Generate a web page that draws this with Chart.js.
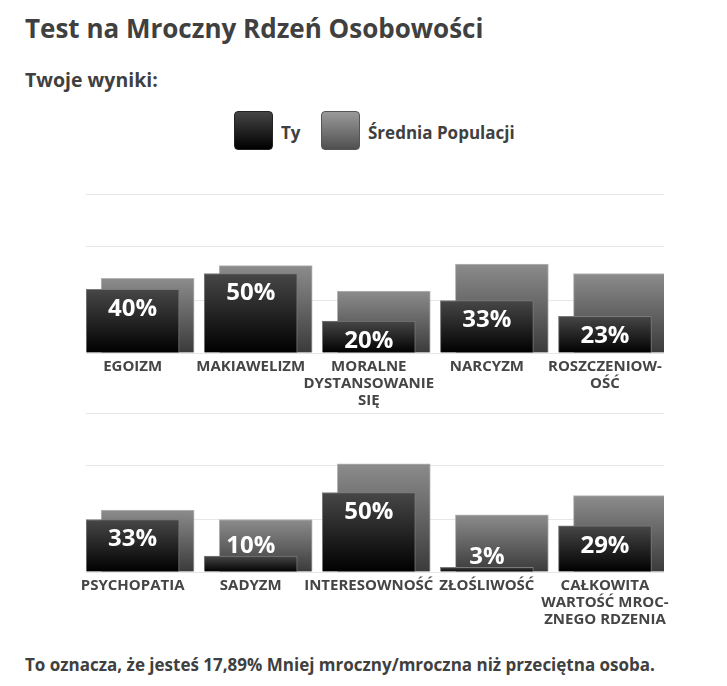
<!DOCTYPE html>
<html lang="pl">
<head>
<meta charset="utf-8">
<title>Test na Mroczny Rdzeń Osobowości</title>
<script src="https://cdn.jsdelivr.net/npm/chart.js@4.4.1/dist/chart.umd.min.js"></script>
<style>
    body { margin: 0; background: #fff; font-family: "Open Sans", sans-serif; color: #404040; }
    #page { position: relative; width: 727px; height: 686px; overflow: hidden; }
    .txt { position: absolute; margin: 0; font-weight: 700; line-height: 1; white-space: nowrap; }
    #mainTitle { left: 25px; top: 15px; font-size: 26px; }
    #resultsTitle { left: 25px; top: 70px; font-size: 19.5px; }
    #footer { left: 25px; top: 656px; font-size: 17px; }
    .legendBox { position: absolute; top: 111px; width: 37px; height: 37px; border-radius: 4px; }
    #boxYou { left: 234px; background: linear-gradient(#454545, #000); border: 1px solid #222; }
    #boxAvg { left: 321px; background: linear-gradient(#9a9a9a, #505050); border: 1px solid #555; }
    .legendText { top: 124px; font-size: 17px; }
    #legendYou { left: 281px; }
    #legendAvg { left: 368px; }
    .panel { position: absolute; left: 0; width: 727px; height: 229px; }
    #panelTop { top: 184px; }
    #panelBottom { top: 403px; }
</style>
</head>
<body>
<div id="page">
    <h1 class="txt" id="mainTitle">Test na Mroczny Rdzeń Osobowości</h1>
    <h2 class="txt" id="resultsTitle">Twoje wyniki:</h2>
    <div class="legendBox" id="boxYou"></div>
    <div class="txt legendText" id="legendYou"></div>
    <div class="legendBox" id="boxAvg"></div>
    <div class="txt legendText" id="legendAvg"></div>
    <div class="panel" id="panelTop"><canvas id="chartTop"></canvas></div>
    <div class="panel" id="panelBottom"><canvas id="chartBottom"></canvas></div>
    <p class="txt" id="footer">To oznacza, że jesteś 17,89% Mniej mroczny/mroczna niż przeciętna osoba.</p>
</div>
<script>
const seriesNames = ['Ty', 'Średnia Populacji'];

const topCategories = ['EGOIZM', 'MAKIAWELIZM', ['MORALNE', 'DYSTANSOWANIE', 'SIĘ'], 'NARCYZM', ['ROSZCZENIOW-', 'OŚĆ']];
const topYou = [40, 50, 20, 33, 23];
const topAverage = [47, 55, 39, 56, 50];

const bottomCategories = ['PSYCHOPATIA', 'SADYZM', 'INTERESOWNOŚĆ', 'ZŁOŚLIWOŚĆ', ['CAŁKOWITA', 'WARTOŚĆ MROC-', 'ZNEGO RDZENIA']];
const bottomYou = [33, 10, 50, 3, 29];
const bottomAverage = [39, 33, 68, 36, 48];

const gridValues = [0, 100 / 3, 200 / 3, 100];

document.getElementById('legendYou').textContent = seriesNames[0];
document.getElementById('legendAvg').textContent = seriesNames[1];

// the average bar sits a bit to the right of the "Ty" bar
const averageShift = 0.127;

function barGradient(topColor, bottomColor) {
    return function (ctx) {
        const chart = ctx.chart;
        if (!chart.chartArea || !ctx.parsed) return bottomColor;
        const y = chart.scales.y;
        const yTop = y.getPixelForValue(ctx.parsed.y);
        const yBase = y.getPixelForValue(0);
        if (!isFinite(yTop) || yBase - yTop < 1) return bottomColor;
        const g = chart.ctx.createLinearGradient(0, yTop, 0, yBase);
        g.addColorStop(0, topColor);
        g.addColorStop(1, bottomColor);
        return g;
    };
}

// percent labels: inside the top of the bar, or just above it when the bar is short
const valueLabels = {
    id: 'valueLabels',
    afterDatasetsDraw(chart) {
        const meta = chart.getDatasetMeta(0);
        const values = chart.data.datasets[0].data;
        const c = chart.ctx;
        c.save();
        c.font = 'bold 24px "Open Sans"';
        c.fillStyle = '#ffffff';
        c.textAlign = 'center';
        c.textBaseline = 'middle';
        meta.data.forEach((bar, i) => {
            const h = bar.base - bar.y;
            const y = h >= 28 ? bar.y + 20 : bar.y - 10;
            c.fillText(values[i].y + '%', bar.x, y);
        });
        c.restore();
    }
};

function makeChart(canvasId, categories, you, average) {
    return new Chart(document.getElementById(canvasId), {
        type: 'bar',
        data: {
            datasets: [{
                label: seriesNames[0],
                data: you.map((v, i) => ({ x: i, y: v })),
                backgroundColor: barGradient('#474747', '#000000'),
                borderColor: '#7a7a7a',
                borderWidth: { top: 1, left: 1, right: 1, bottom: 0 },
                borderSkipped: 'bottom',
                order: 0
            }, {
                label: seriesNames[1],
                data: average.map((v, i) => ({ x: i + averageShift, y: v })),
                backgroundColor: barGradient('#8c8c8c', '#3a3a3a'),
                borderColor: '#b5b5b5',
                borderWidth: { top: 1, left: 1, right: 1, bottom: 0 },
                borderSkipped: 'bottom',
                order: 1
            }]
        },
        options: {
            responsive: true,
            maintainAspectRatio: false,
            animation: false,
            grouped: false,
            barThickness: 93,
            layout: { padding: { left: 86, right: 63, top: 10, bottom: 0 } },
            plugins: {
                legend: { display: false },
                tooltip: { enabled: false }
            },
            scales: {
                x: {
                    type: 'linear',
                    offset: false,
                    min: -0.395,
                    max: 4.5,
                    grid: { display: false },
                    border: { display: false },
                    afterBuildTicks: axis => { axis.ticks = categories.map((_, i) => ({ value: i })); },
                    afterFit: axis => { axis.height = 60; },
                    ticks: {
                        autoSkip: false,
                        maxRotation: 0,
                        padding: -3,
                        color: '#454545',
                        font: { family: '"Open Sans"', size: 15, weight: 'bold', lineHeight: 1.13 },
                        callback: value => categories[value]
                    }
                },
                y: {
                    min: 0,
                    max: 100,
                    afterBuildTicks: axis => { axis.ticks = gridValues.map(v => ({ value: v })); },
                    grid: { color: '#e6e6e6', lineWidth: 1, drawTicks: false },
                    border: { display: false },
                    ticks: { display: false }
                }
            }
        },
        plugins: [valueLabels]
    });
}

makeChart('chartTop', topCategories, topYou, topAverage);
makeChart('chartBottom', bottomCategories, bottomYou, bottomAverage);
</script>
</body>
</html>
